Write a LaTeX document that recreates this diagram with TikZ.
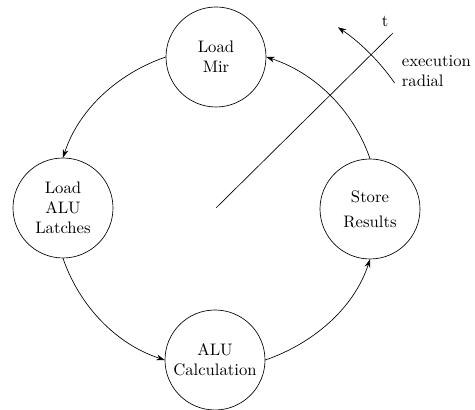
\documentclass[tikz,border=0pt]{standalone}
\usetikzlibrary{arrows.meta,calc}
\tikzset{
  state/.style={draw,circle,minimum size=60pt,inner sep=0pt,align=center},
  >={Stealth[length=5pt,width=3.5pt]}
}
\begin{document}
\begin{tikzpicture}[x=0.6pt,y=0.6pt,looseness=0.9]
		\useasboundingbox (0,0) rectangle (475,410);
		% states
		\node[state] (mir) at (216,353) {Load\\Mir};
		\node[state] (latch) at (63,202) {Load\\ALU\\Latches};
		\node[state] (calc) at (215,50) {ALU\\Calculation};
		\node[state] (store) at (370,201) {Store\\[3pt]Results};
		% cycle
		\draw[->] (mir.west) to[out=199,in=72] (latch.north);
		\draw[->] (latch.south) to[out=289,in=162] (calc.west);
		\draw[->] (calc.east) to[out=19,in=252] (store.south);
		\draw[->] (store.north) to[out=109,in=342] (mir.east);
		% execution radial
		\coordinate (ctr) at (216,202);
		\coordinate (rend) at (393,377);
		\draw (ctr) -- (rend);
		\draw[->] ($(ctr)+(35:218)$) arc[start angle=35,end angle=56,radius=218];
		\node (t) at (385,389) {t};
		\node[anchor=west,align=left] (lbl) at (396,339) {execution\\radial};
	\end{tikzpicture}
\end{document}
